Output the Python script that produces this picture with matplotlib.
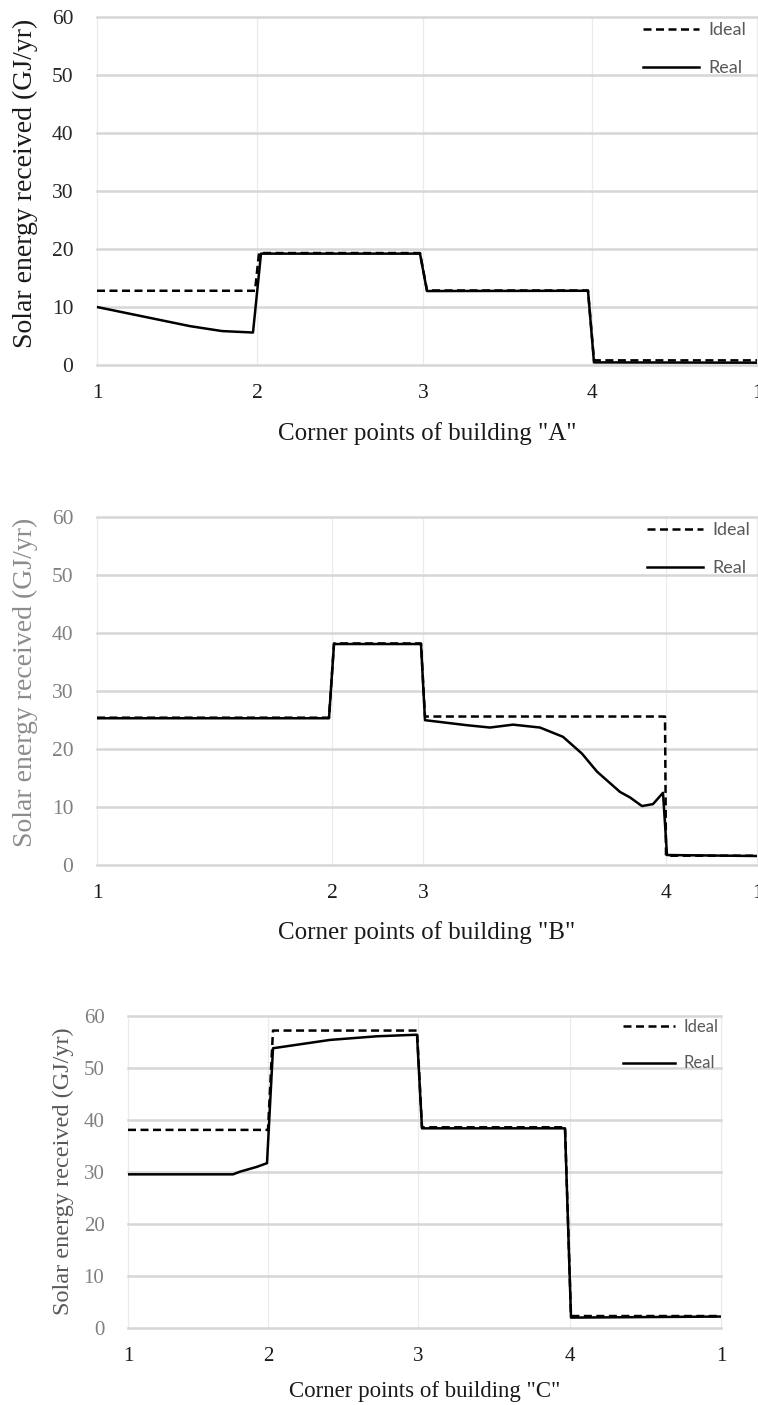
import numpy as np
import matplotlib
matplotlib.use("Agg")
import matplotlib.pyplot as plt

## Data (x = distance along the building perimeter)
corner_labels = ["1", "2", "3", "4", "1"]

a_corners = [0, 16.0, 32.6, 49.5, 66.0]
a_real_x = [0, 9.3, 12.5, 15.6, 16.4, 32.3, 33.0, 49.1, 49.7, 66.0]
a_real_y = [10.0, 6.7, 5.85, 5.6, 19.2, 19.2, 12.75, 12.8, 0.45, 0.4]
a_ideal_x = [0, 15.8, 16.2, 32.3, 33.0, 49.1, 49.7, 66.0]
a_ideal_y = [12.8, 12.8, 19.3, 19.3, 12.85, 12.85, 0.8, 0.8]

b_corners = [0, 23.5, 32.6, 56.9, 66.0]
b_real_x = [0, 23.2, 23.7, 32.4, 32.8, 37.0, 39.3, 41.6, 44.3, 46.6, 48.5,
            50.0, 52.3, 53.3, 54.5, 55.6, 56.6, 57.0, 66.0]
b_real_y = [25.3, 25.3, 38.1, 38.1, 24.97, 24.1, 23.7, 24.2, 23.7, 22.1, 19.2,
            16.1, 12.6, 11.65, 10.16, 10.5, 12.45, 1.72, 1.55]
b_ideal_x = [0, 23.2, 23.7, 32.4, 32.8, 56.8, 56.9, 66.0]
b_ideal_y = [25.4, 25.4, 38.2, 38.2, 25.6, 25.6, 1.6, 1.6]

c_corners = [0, 14.0, 29.0, 44.2, 59.3]
c_real_x = [0, 10.5, 11.2, 12.9, 13.9, 14.5, 20.2, 24.9, 28.9, 29.4, 43.7, 44.3, 59.3]
c_real_y = [29.55, 29.55, 30.06, 31.0, 31.7, 53.8, 55.4, 56.1, 56.4, 38.4, 38.4, 2.0, 2.2]
c_ideal_x = [0, 14.0, 14.5, 28.9, 29.4, 43.7, 44.3, 59.3]
c_ideal_y = [38.1, 38.1, 57.2, 57.2, 38.6, 38.6, 2.3, 2.3]

y_ticks = [0, 10, 20, 30, 40, 50, 60]

W, H = 758, 1405
fig = plt.figure(figsize=(W / 100, H / 100), dpi=100)
serif = "Liberation Serif"


def px_rect(left, right, top, bottom):
    return [left / W, 1 - bottom / H, (right - left) / W, (bottom - top) / H]


def draw_panel(rect, corners, rx, ry, ix, iy, building, ytick_color, ylabel_color,
               ylabel_size, xlabel_size, ylabel_pos, xlabel_y, leg_anchor, leg_size,
               tick_size=15.5):
    ax = fig.add_axes(rect)
    ax.plot(ix, iy, color="black", lw=1.8, linestyle=(0, (3.2, 1.8)), label="Ideal")
    ax.plot(rx, ry, color="black", lw=1.8, label="Real")
    ax.set_xlim(corners[0], corners[-1])
    ax.set_ylim(0, 60)
    ax.set_xticks(corners)
    ax.set_xticklabels(corner_labels)
    ax.set_yticks(y_ticks)
    for s in ax.spines.values():
        s.set_visible(False)
    ax.tick_params(axis="both", length=0)
    ax.tick_params(axis="x", pad=14, labelsize=tick_size, labelcolor="#1a1a1a")
    ax.tick_params(axis="y", pad=17, labelsize=tick_size, labelcolor=ytick_color)
    for lab in ax.get_xticklabels() + ax.get_yticklabels():
        lab.set_fontfamily(serif)
    ax.grid(axis="y", color="#d6d6d6", lw=1.8)
    ax.grid(axis="x", color="#ebebeb", lw=0.9)
    for gl in ax.get_ygridlines() + ax.get_xgridlines():
        gl.set_clip_on(False)
    ax.set_axisbelow(True)
    ax.set_ylabel("Solar energy received (GJ/yr)", fontsize=ylabel_size,
                  family=serif, color=ylabel_color)
    ax.yaxis.set_label_coords(ylabel_pos[0], ylabel_pos[1])
    ax.set_xlabel('Corner points of building "%s"' % building, fontsize=xlabel_size,
                  family=serif, color="#1a1a1a")
    ax.xaxis.set_label_coords(0.5, xlabel_y)
    leg = ax.legend(loc="upper left", bbox_to_anchor=leg_anchor, frameon=False,
                    handlelength=3.1, handletextpad=0.55, labelspacing=1.22,
                    borderpad=0, borderaxespad=0,
                    prop={"family": "Lato", "size": leg_size})
    for t in leg.get_texts():
        t.set_color("#595959")
    return ax


draw_panel(px_rect(97, 757, 17, 365), a_corners, a_real_x, a_real_y, a_ideal_x, a_ideal_y,
           "A", "#262626", "#1a1a1a", 20, 18, (-0.09, 0.523), -0.164,
           (0.827, 0.985), 13)
draw_panel(px_rect(97, 757, 517, 865), b_corners, b_real_x, b_real_y, b_ideal_x, b_ideal_y,
           "B", "#808080", "#8c8c8c", 20, 18, (-0.09, 0.526), -0.161,
           (0.833, 0.985), 13)
draw_panel(px_rect(128, 721, 1016, 1328), c_corners, c_real_x, c_real_y, c_ideal_x, c_ideal_y,
           "C", "#808080", "#595959", 17.5, 16.5, (-0.091, 0.503), -0.17,
           (0.835, 0.99), 12, tick_size=15)

fig.savefig("out.png", dpi=100)
